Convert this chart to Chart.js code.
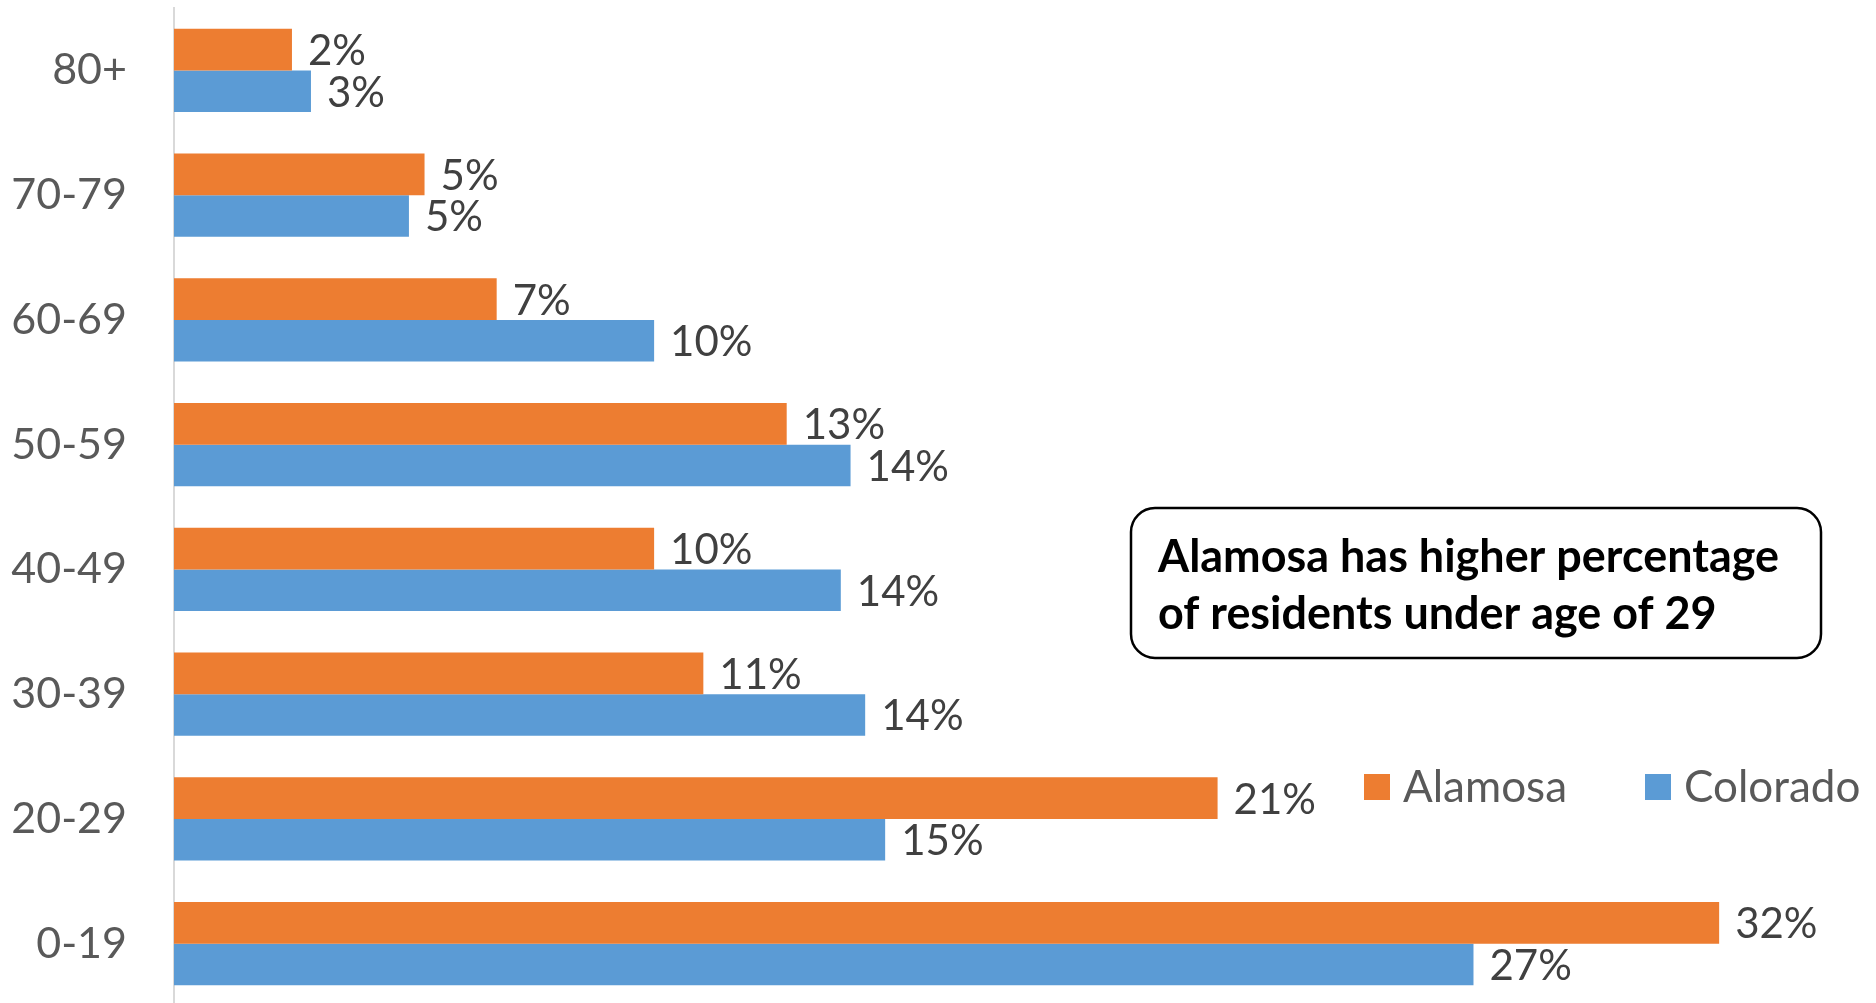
<!DOCTYPE html>
<html>
<head>
<meta charset="utf-8">
<script src="https://cdn.jsdelivr.net/npm/chart.js@4/dist/chart.umd.min.js"></script>
<style>
  html, body { margin: 0; padding: 0; background: #fff; overflow: hidden; }
  #wrap { position: relative; width: 1880px; height: 1006px; }
</style>
</head>
<body>
<div id="wrap"><canvas id="chart" width="1880" height="1006"></canvas></div>
<script>
// age bands, top to bottom as in the picture
const ageGroups = ["80+", "70-79", "60-69", "50-59", "40-49", "30-39", "20-29", "0-19"]
// share of residents, percent
const alamosa = [2.42, 5.14, 6.62, 12.57, 9.85, 10.86, 21.41, 31.70]
const colorado = [2.81, 4.82, 9.85, 13.88, 13.68, 14.18, 14.59, 26.66]
const seriesNames = ["Alamosa", "Colorado"]
const seriesColors = ["#ED7D31", "#5B9BD5"]
const noteLines = ["Alamosa has higher percentage", "of residents under age of 29"]
const xMax = 35

const FONT = "Lato"

// percent labels just past the end of each bar
const valueLabels = {
  id: "valueLabels",
  afterDatasetsDraw(chart) {
    const ctx = chart.ctx
    ctx.save()
    ctx.font = `42px ${FONT}`
    ctx.fillStyle = "#404040"
    ctx.textAlign = "left"
    ctx.textBaseline = "middle"
    chart.data.datasets.forEach((ds, i) => {
      chart.getDatasetMeta(i).data.forEach((bar, j) => {
        ctx.fillText(Math.round(ds.data[j]) + "%", bar.x + 16, bar.y + 2)
      })
    })
    ctx.restore()
  }
}

// legend in the lower right + the rounded note box
const extras = {
  id: "extras",
  afterDraw(chart) {
    const ctx = chart.ctx
    ctx.save()

    const legendX = [1364, 1645]
    ctx.font = `44px ${FONT}`
    ctx.textBaseline = "middle"
    chart.data.datasets.forEach((ds, i) => {
      ctx.fillStyle = ds.backgroundColor
      ctx.fillRect(legendX[i], 774, 26, 26)
      ctx.fillStyle = "#595959"
      ctx.fillText(ds.label, legendX[i] + 39, 788)
    })

    ctx.beginPath()
    ctx.roundRect(1131, 508, 690, 150, 24)
    ctx.lineWidth = 2.5
    ctx.strokeStyle = "#000"
    ctx.fillStyle = "#fff"
    ctx.fill()
    ctx.stroke()

    ctx.font = `bold 45px ${FONT}`
    ctx.fillStyle = "#000"
    ctx.textBaseline = "alphabetic"
    const squeeze = Math.min(1, 621 / ctx.measureText(noteLines[0]).width)
    ctx.translate(1158, 0)
    ctx.scale(squeeze, 1)
    ctx.fillText(noteLines[0], 0, 572)
    ctx.fillText(noteLines[1], 0, 629)
    ctx.restore()
  }
}

function draw() {
  new Chart(document.getElementById("chart"), {
    type: "bar",
    data: {
      labels: ageGroups,
      datasets: [
        { label: seriesNames[0], data: alamosa, backgroundColor: seriesColors[0] },
        { label: seriesNames[1], data: colorado, backgroundColor: seriesColors[1] },
      ],
    },
    options: {
      indexAxis: "y",
      responsive: false,
      devicePixelRatio: 1,
      animation: false,
      layout: { padding: { top: 8, right: 0, bottom: 0, left: 0 } },
      datasets: { bar: { categoryPercentage: 0.667, barPercentage: 1, borderWidth: 0 } },
      scales: {
        x: { display: false, min: 0, max: xMax },
        y: {
          // fixed axis width; drop the label overhang padding so bands fill the height
          afterFit: s => { s.width = 174; s.paddingTop = 0; s.paddingBottom = 0 },
          grid: { display: false, drawTicks: false },
          border: { display: true, color: "#d9d9d9", width: 2 },
          ticks: { padding: 47, color: "#595959", font: { family: FONT, size: 43 } },
        },
      },
      plugins: { legend: { display: false }, tooltip: { enabled: false } },
    },
    plugins: [valueLabels, extras],
  })
}

document.fonts.load(`43px ${FONT}`).then(draw, draw)
</script>
</body>
</html>
